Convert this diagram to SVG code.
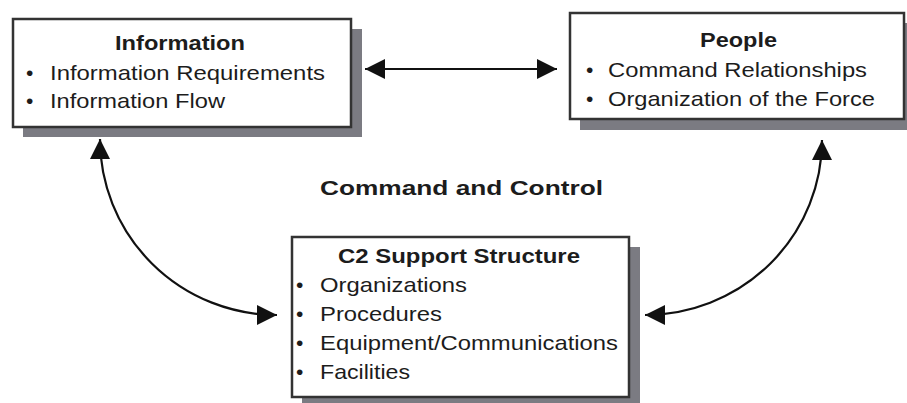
<svg xmlns="http://www.w3.org/2000/svg" width="907" height="403" viewBox="0 0 907 403">
<defs>
<style>
.box{fill:#ffffff;stroke:#333333;stroke-width:2.5}
.shadow{fill:#7b7b82}
.t{font-family:"Liberation Sans",Arial,sans-serif;font-size:21px;fill:#1c1c1c}
.b{font-weight:bold}
.conn{fill:none;stroke:#111111;stroke-width:2.2}
</style>
<marker id="ah" markerUnits="userSpaceOnUse" markerWidth="20" markerHeight="20" refX="20" refY="10" orient="auto-start-reverse">
<path d="M0,0 L20,10 L0,20 Z" fill="#111111"/>
</marker>
</defs>
<rect width="907" height="403" fill="#ffffff"/>
<g id="connectors">
<path class="conn" d="M365,69 L557,69" marker-start="url(#ah)" marker-end="url(#ah)"/>
<path class="conn" d="M100,139 A177,176 0 0,0 277,315" marker-start="url(#ah)" marker-end="url(#ah)"/>
<path class="conn" d="M822,140 A177,175 0 0,1 645,315" marker-start="url(#ah)" marker-end="url(#ah)"/>
</g>
<g id="information">
<rect class="shadow" x="23" y="29" width="339" height="108"/>
<rect class="box" x="13" y="19" width="338" height="108"/>
<text class="t b" x="115" y="50" textLength="130" lengthAdjust="spacingAndGlyphs">Information</text>
<text class="t" x="26" y="80">•</text>
<text class="t" x="50" y="80" textLength="275" lengthAdjust="spacingAndGlyphs">Information Requirements</text>
<text class="t" x="26" y="108">•</text>
<text class="t" x="50" y="108" textLength="175" lengthAdjust="spacingAndGlyphs">Information Flow</text>
</g>
<g id="people">
<rect class="shadow" x="580" y="23" width="336" height="107"/>
<rect class="box" x="570" y="13" width="334" height="106"/>
<text class="t b" x="700" y="47" textLength="77" lengthAdjust="spacingAndGlyphs">People</text>
<text class="t" x="586" y="77">•</text>
<text class="t" x="608" y="77" textLength="259" lengthAdjust="spacingAndGlyphs">Command Relationships</text>
<text class="t" x="586" y="106">•</text>
<text class="t" x="608" y="106" textLength="267" lengthAdjust="spacingAndGlyphs">Organization of the Force</text>
</g>
<g id="command-and-control">
<text class="t b" x="320" y="195" font-size="23.5" textLength="283" lengthAdjust="spacingAndGlyphs">Command and Control</text>
</g>
<g id="c2-support-structure">
<rect class="shadow" x="302" y="247" width="338" height="160"/>
<rect class="box" x="292" y="237" width="337" height="160"/>
<text class="t b" x="338" y="263" textLength="242" lengthAdjust="spacingAndGlyphs">C2 Support Structure</text>
<text class="t" x="296" y="292">•</text>
<text class="t" x="320" y="292" textLength="147" lengthAdjust="spacingAndGlyphs">Organizations</text>
<text class="t" x="296" y="321">•</text>
<text class="t" x="320" y="321" textLength="122" lengthAdjust="spacingAndGlyphs">Procedures</text>
<text class="t" x="296" y="350">•</text>
<text class="t" x="320" y="350" textLength="298" lengthAdjust="spacingAndGlyphs">Equipment/Communications</text>
<text class="t" x="296" y="379">•</text>
<text class="t" x="320" y="379" textLength="90" lengthAdjust="spacingAndGlyphs">Facilities</text>
</g>
</svg>
